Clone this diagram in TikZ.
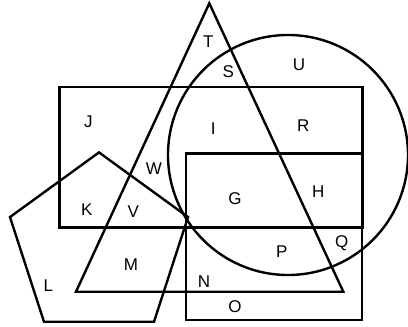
\documentclass[tikz,border=0pt]{standalone}
\usepackage{fontspec}
\setmainfont{Liberation Sans}
\usetikzlibrary{shapes.geometric}

\begin{document}
\begin{tikzpicture}[
            x=1pt, y=-1pt,
            outline/.style={draw, line width=2.4pt, line join=miter},
            region/.style={font=\fontsize{17}{17}\selectfont, inner sep=0pt}
        ]
            \useasboundingbox (0,0) rectangle (408,327);

            % --- SHAPES ---
            \draw[outline] (59.3,86.7) rectangle (362.5,227.3);
            \draw[outline] (185.7,153.3) rectangle (361.7,320);
            \draw[outline] (209.3,3.3) -- (76,291.7) -- (343.3,291.7) -- cycle;
            \draw[outline] (288,155) circle (120);
            \node[outline, regular polygon, regular polygon sides=5, minimum size=187.2pt, inner sep=0pt] (penta) at (99,246) {};

            % --- LABELS ---
            \node[region] (T) at (208.3,41.7) {T};
            \node[region] (S) at (228.3,71.7) {S};
            \node[region] (U) at (299,65) {U};
            \node[region] (J) at (88.3,121.7) {J};
            \node[region] (I) at (213.3,128.3) {I};
            \node[region] (R) at (303.3,126) {R};
            \node[region] (W) at (154,168.3) {W};
            \node[region] (G) at (235,198.3) {G};
            \node[region] (H) at (318.3,191.7) {H};
            \node[region] (K) at (86.7,209.3) {K};
            \node[region] (V) at (133.3,211.7) {V};
            \node[region] (Q) at (341.7,243.3) {Q};
            \node[region] (P) at (281.7,251.7) {P};
            \node[region] (M) at (131,265) {M};
            \node[region] (N) at (204,281.7) {N};
            \node[region] (L) at (48.3,286) {L};
            \node[region] (O) at (235,306.7) {O};

        \end{tikzpicture}
\end{document}
